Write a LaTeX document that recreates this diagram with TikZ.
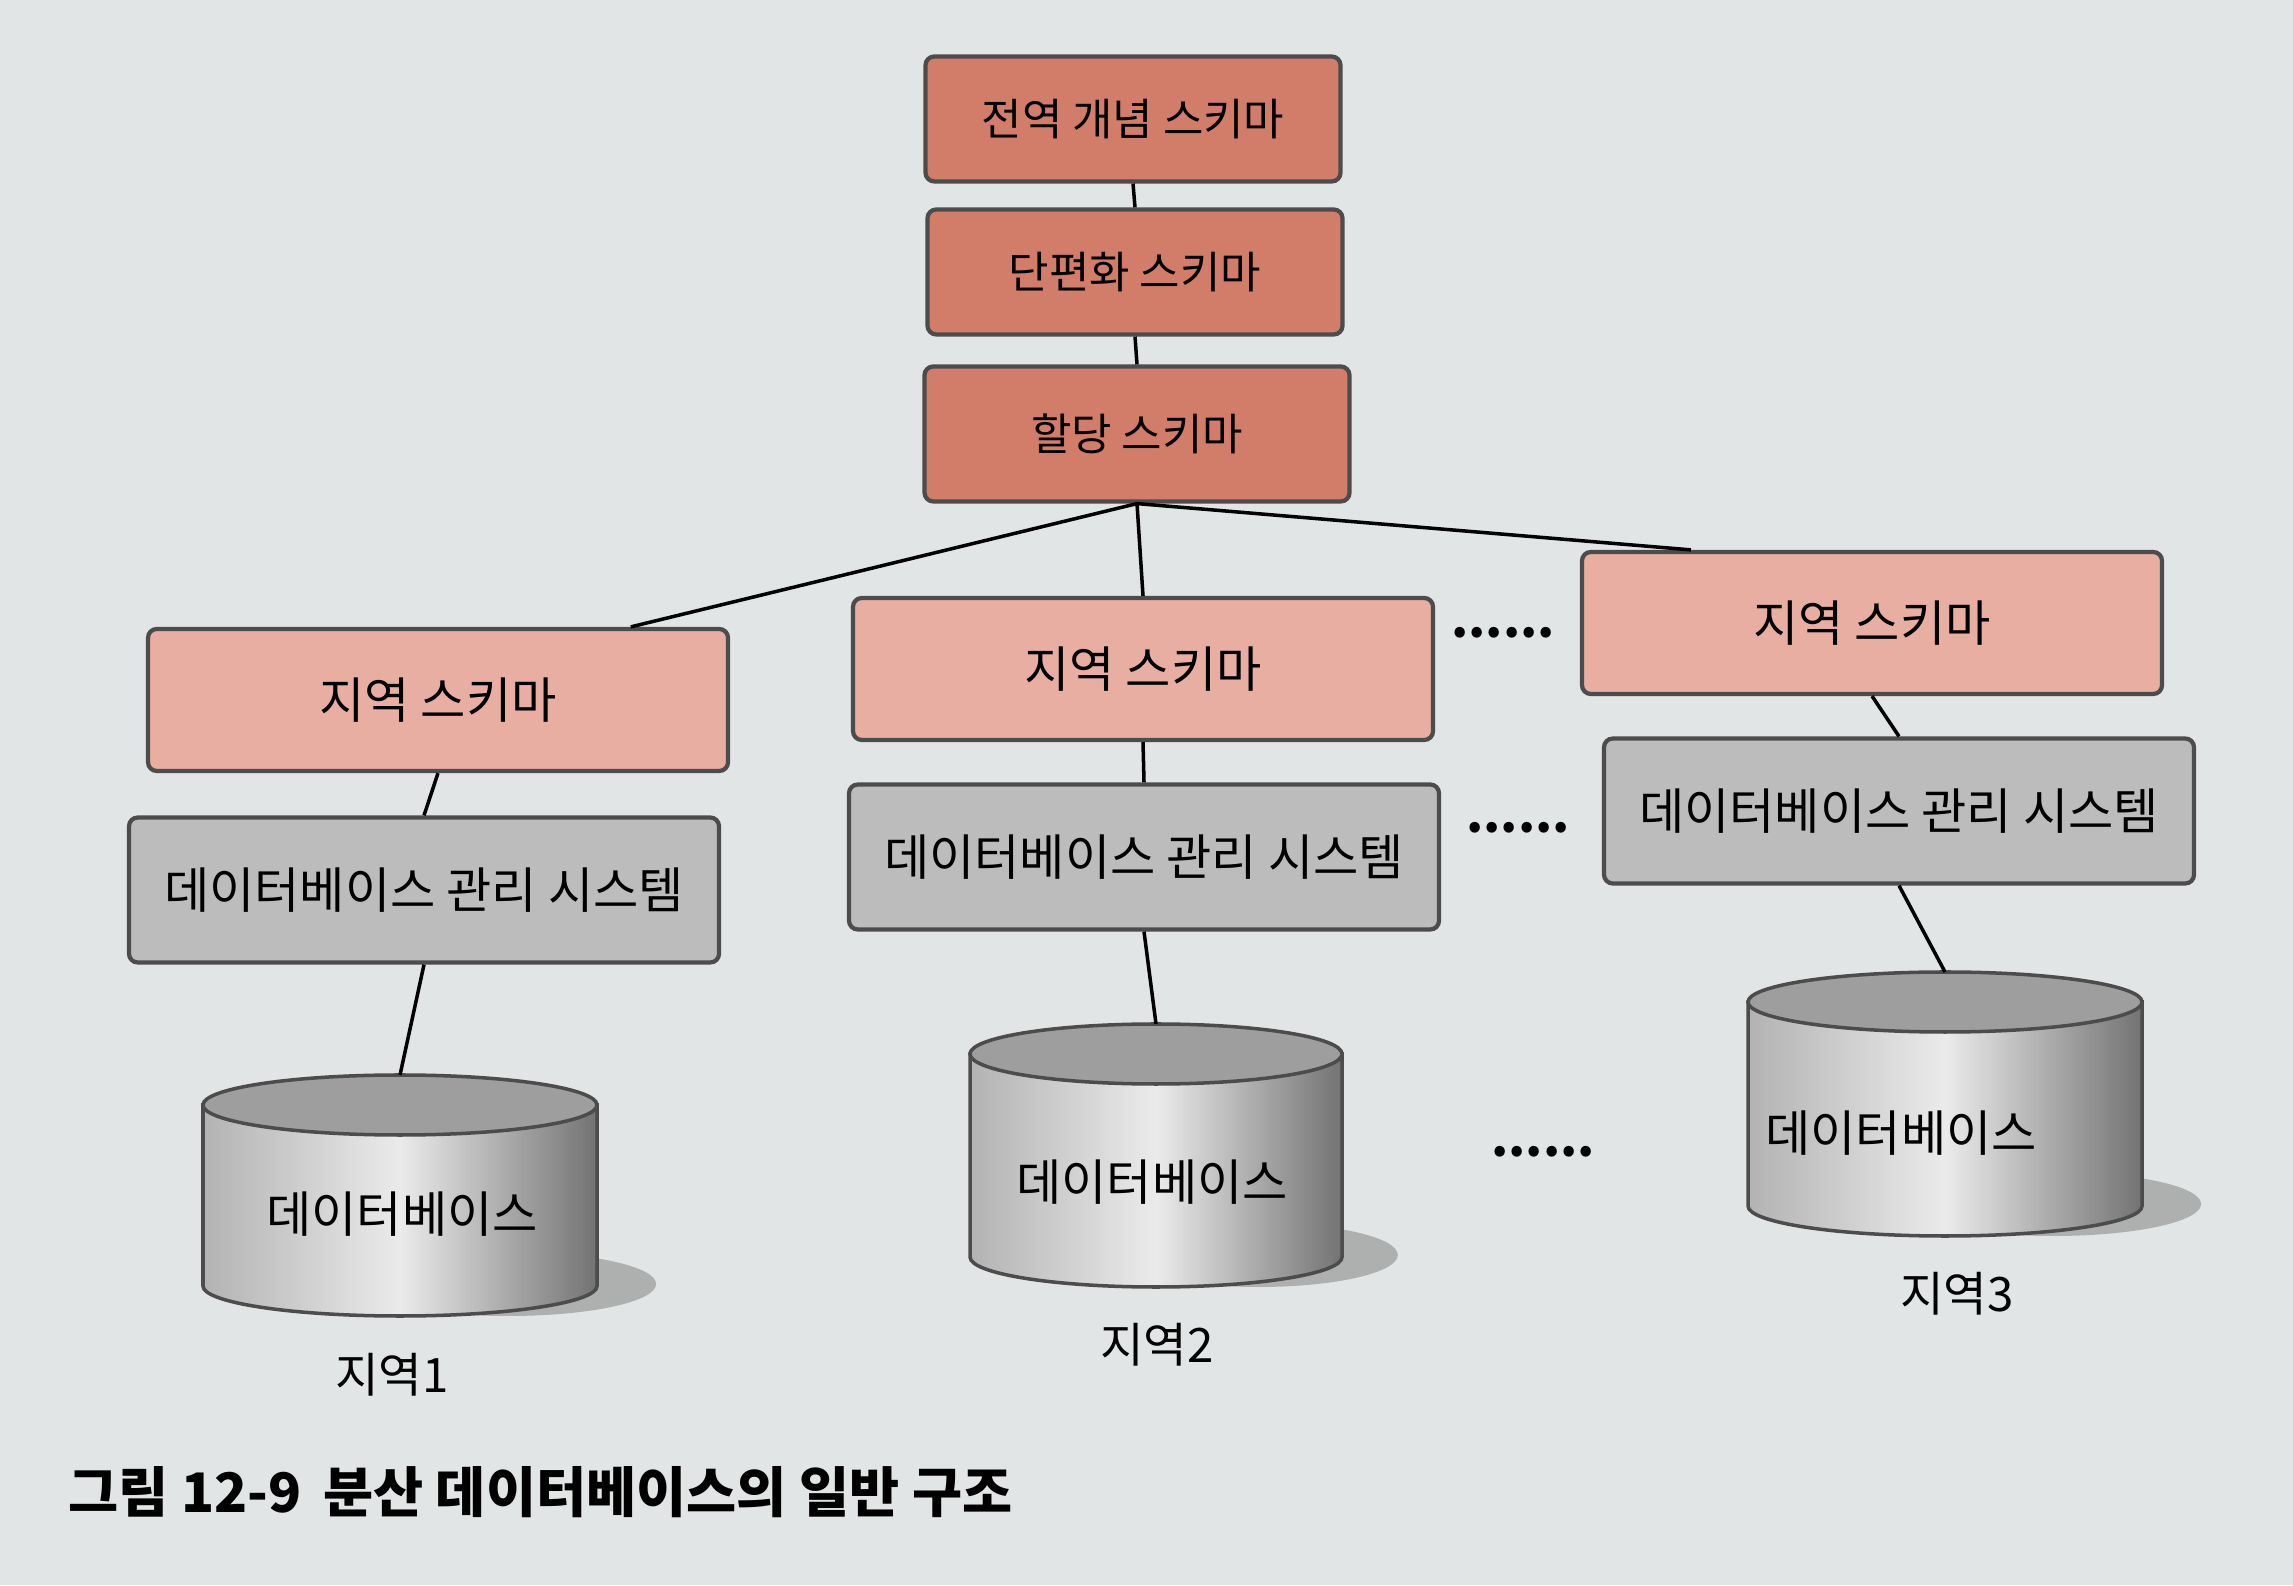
\documentclass[tikz,border=0pt]{standalone}
\usepackage{fontspec}
\setmainfont{Noto Sans CJK KR}
\usetikzlibrary{calc}

\definecolor{paper}{RGB}{226,229,229}
\definecolor{schemadark}{RGB}{210,125,105}
\definecolor{schemalight}{RGB}{232,174,162}
\definecolor{dbmsgray}{RGB}{188,188,188}

\tikzset{
  schema/.style={draw=black!70, line width=1.2pt, rounded corners=2.5pt, fill=schemadark,
    minimum width=4.15cm, minimum height=1.25cm, font=\fontsize{12.5}{15}\selectfont},
  localbox/.style={schema, fill=schemalight, minimum width=5.8cm, minimum height=1.42cm,
    font=\fontsize{14}{16}\selectfont},
  dbmsbox/.style={schema, fill=dbmsgray, minimum width=5.9cm, minimum height=1.45cm,
    font=\fontsize{14}{16}\selectfont},
  link/.style={black, line width=1pt},
  dbtext/.style={font=\fontsize{14}{16}\selectfont},
  site/.style={font=\fontsize{13.5}{16}\selectfont},
  dots/.style={font=\fontsize{14}{16}\selectfont\bfseries},
}

% drum: name, x, y of top, y of bottom, x radius
\newcommand{\drum}[5]{%
  \fill[black!45, opacity=0.6] ({#2+0.55*#5},{#4+0.02}) ellipse ({0.75*#5} and 0.32);
  \shadedraw[left color=black!30, right color=black!55, middle color=black!8,
    draw=black!70, line width=1pt]
    ({#2-#5},#3) -- ({#2-#5},#4) arc[start angle=180, end angle=360, x radius=#5, y radius=0.3]
    -- ({#2+#5},#3) -- cycle;
  \filldraw[fill=black!38, draw=black!70, line width=1pt] (#2,#3) ellipse ({#5} and 0.3);
  \coordinate (#1) at (#2,{#3+0.3});
}

\begin{document}
\begin{tikzpicture}

\fill[paper] (0,0) rectangle (22.93,15.85);
\useasboundingbox (0,0) rectangle (22.93,15.85);

% Global levels
\node[schema] (global) at (11.33,14.66) {전역 개념 스키마};
\node[schema] (frag) at (11.35,13.13) {단편화 스키마};
\node[schema, minimum width=4.25cm, minimum height=1.35cm] (alloc) at (11.37,11.51) {할당 스키마};

% Local schemas
\node[localbox] (loc1) at (4.38,8.85) {지역 스키마};
\node[localbox] (loc2) at (11.43,9.16) {지역 스키마};
\node[localbox] (loc3) at (18.72,9.62) {지역 스키마};

% DBMS
\node[dbmsbox] (dbms1) at (4.24,6.95) {데이터베이스 관리 시스템};
\node[dbmsbox] (dbms2) at (11.44,7.28) {데이터베이스 관리 시스템};
\node[dbmsbox] (dbms3) at (18.99,7.74) {데이터베이스 관리 시스템};

% Databases
\drum{db1}{4.00}{4.80}{2.99}{1.97}
\drum{db2}{11.56}{5.31}{3.28}{1.86}
\drum{db3}{19.45}{5.83}{3.79}{1.97}

\node[dbtext] (dbtxt1) at (4.02,3.71) {데이터베이스};
\node[dbtext] (dbtxt2) at (11.52,4.03) {데이터베이스};
\node[dbtext] (dbtxt3) at (19.01,4.52) {데이터베이스};

\node[site] (site1) at (3.92,2.10) {지역1};
\node[site] (site2) at (11.57,2.40) {지역2};
\node[site] (site3) at (19.57,2.91) {지역3};

% Ellipsis between sites
\node[dots] (dots1) at (15.03,9.52) {......};
\node[dots] (dots2) at (15.18,7.57) {......};
\node[dots] (dots3) at (15.43,4.33) {......};

% Connectors
\draw[link] (global.south) -- (frag.north);
\draw[link] (frag.south) -- (alloc.north);
\draw[link] (alloc.south) -- ($(loc1.north west)!0.83!(loc1.north east)$);
\draw[link] (alloc.south) -- (loc2.north);
\draw[link] (alloc.south) -- ($(loc3.north west)!0.19!(loc3.north east)$);
\foreach \i in {1,2,3} {
  \draw[link] (loc\i.south) -- (dbms\i.north);
  \draw[link] (dbms\i.south) -- (db\i);
}

% Caption
\node[anchor=west, font=\fontsize{15.5}{18}\selectfont\bfseries] (caption) at (0.56,0.93)
  {그림 12-9\hspace{0.4em}분산 데이터베이스의 일반 구조};

\end{tikzpicture}
\end{document}
